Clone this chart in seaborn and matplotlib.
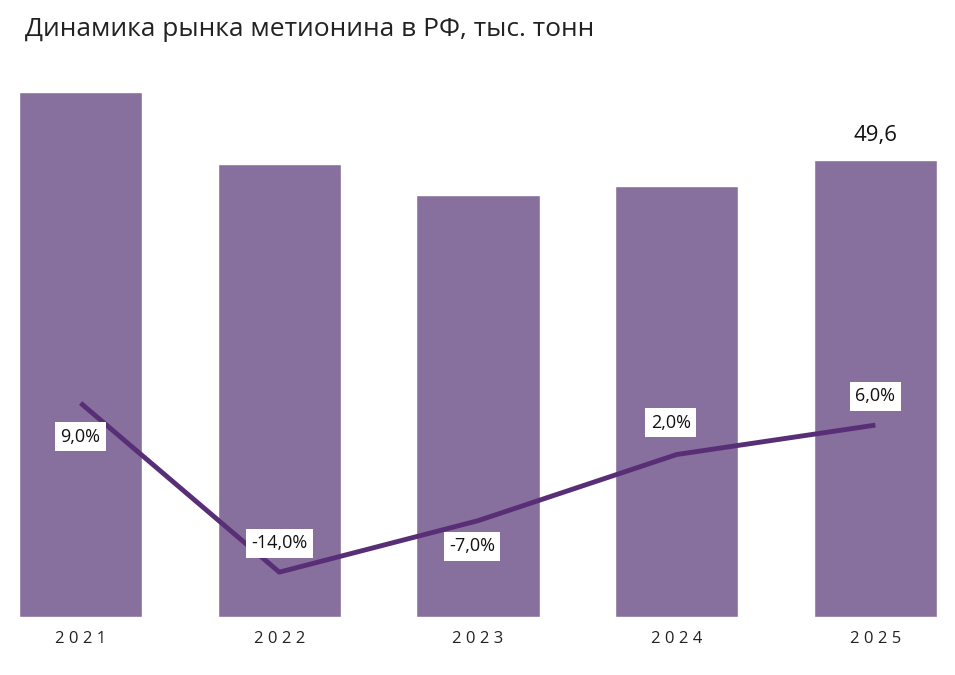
import matplotlib
matplotlib.use("Agg")
import matplotlib.pyplot as plt
import seaborn as sns
import pandas as pd

years = ["2021", "2022", "2023", "2024", "2025"]
market = [57.0, 49.2, 45.8, 46.8, 49.6]
growth = [9.0, -14.0, -7.0, 2.0, 6.0]
growth_labels = ["9,0%", "-14,0%", "-7,0%", "2,0%", "6,0%"]

sns.set_theme(style="white")
plt.rcParams["font.family"] = ["Open Sans", "DejaVu Sans"]

W, H = 955, 675
fig = plt.figure(figsize=(W / 100, H / 100), dpi=100)
ax = fig.add_axes([19 / W, (H - 617) / H, (937 - 19) / W, (617 - 70) / H])

df = pd.DataFrame({"year": years, "market": market})
sns.barplot(data=df, x="year", y="market", color="#87709d", saturation=1, width=0.62, ax=ax)
ax.set_xlim(-0.31, 4.31)
ax.set_ylim(0, 59.4)
ax.set_xlabel("")
ax.set_ylabel("")
ax.set_yticks([])
ax.tick_params(axis="x", length=0, pad=10, labelsize=12)
for lab in ax.get_xticklabels():
    lab.set_color("#222222")
    lab.set_fontproperties({"family": "Open Sans", "size": 12})
for t in ax.get_xticklabels():
    t.set_text(t.get_text())
ax.set_xticklabels([" ".join(y) for y in years])
for s in ax.spines.values():
    s.set_visible(False)

ax.text(4, market[4] + 1.5, "49,6".replace(".", ","), ha="center", va="bottom", fontsize=16, color="#111111")

ax2 = ax.twinx()
ax2.plot(range(5), growth, color="#582f76", lw=3.5, solid_capstyle="butt")
ax2.set_ylim(-20.1, 54.3)
ax2.set_yticks([])
for s in ax2.spines.values():
    s.set_visible(False)

offsets = [-4.6, 3.9, -3.5, 4.3, 3.9]
xshift = [0, 0, -0.03, -0.03, 0]
for i, (g, l) in enumerate(zip(growth, growth_labels)):
    ax2.text(i + xshift[i], g + offsets[i], l, ha="center", va="center", fontsize=13, color="#111111",
             bbox=dict(boxstyle="square,pad=0.3", fc="white", ec="none"))

fig.text(25 / W, 1 - 30 / H, "Динамика рынка метионина в РФ, тыс. тонн", ha="left", va="center",
         fontsize=19, color="#222222")

fig.savefig("out.png", dpi=100)
